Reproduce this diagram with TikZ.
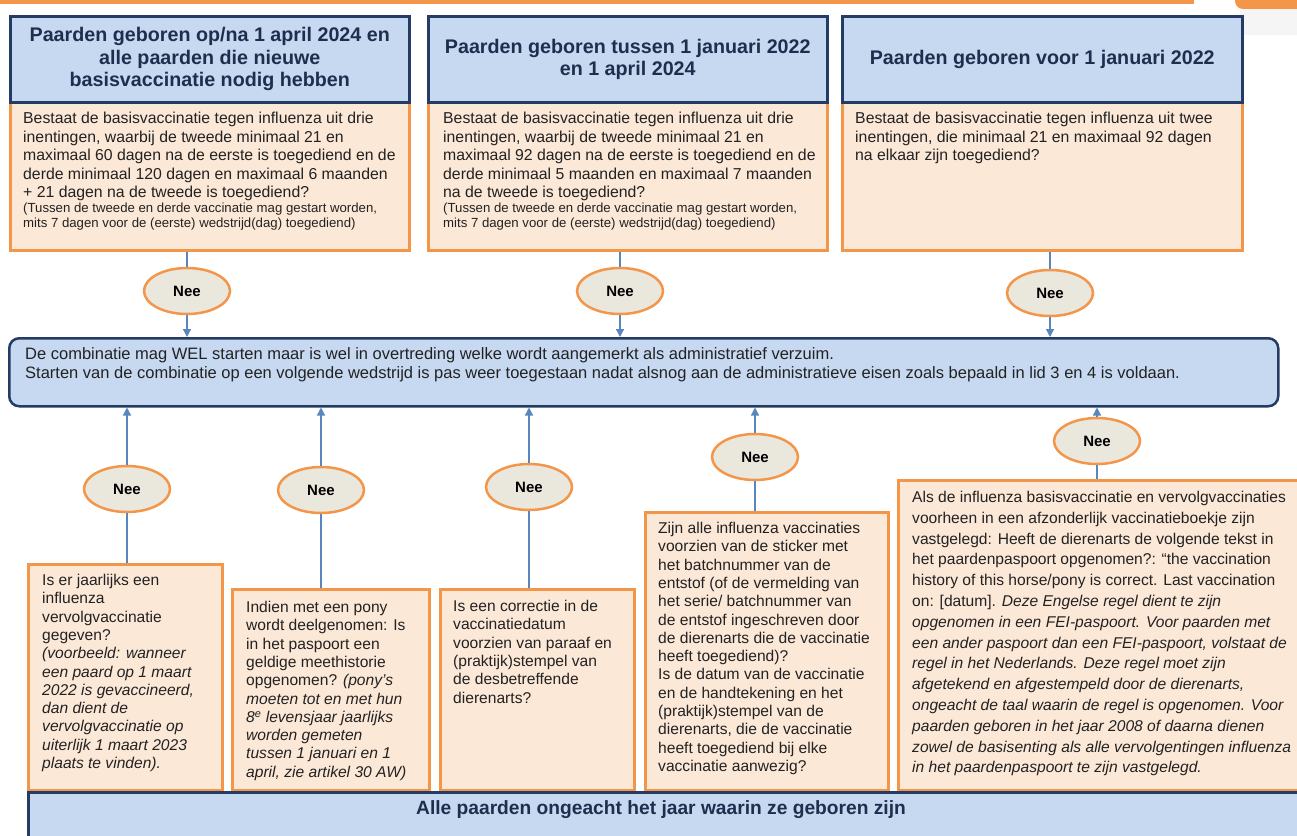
\documentclass[tikz,border=0pt]{standalone}
\usepackage{fontspec}
\setmainfont{Liberation Sans}
\usetikzlibrary{arrows.meta,shapes.geometric}
\definecolor{hdrfill}{HTML}{C6D9F1}
\definecolor{navy}{HTML}{243C63}
\definecolor{hdrtext}{HTML}{1F2E4E}
\definecolor{peach}{HTML}{FCE8D7}
\definecolor{orng}{HTML}{F4964A}
\definecolor{neefill}{HTML}{EAE7DD}
\definecolor{conn}{HTML}{5A86BE}
\definecolor{bodytext}{HTML}{222222}
\tikzset{
  hdrbox/.style={draw=navy, fill=hdrfill, line width=2.5pt, inner sep=0pt, anchor=north west},
  qbox/.style={draw=orng, fill=peach, line width=2.5pt, inner sep=0pt, anchor=north west},
  hdrtxt/.style={font=\fontsize{19.7}{22.5}\selectfont\bfseries, text=hdrtext, align=center, inner sep=0pt},
  body/.style={font=\fontsize{15.6}{18.3}\selectfont, text=bodytext, align=left, anchor=north west, inner sep=0pt},
  bodytop/.style={font=\fontsize{15.8}{18.5}\selectfont, text=bodytext, align=left, anchor=north west, inner sep=0pt},
  bodywide/.style={font=\fontsize{15.6}{20.8}\selectfont, text=bodytext, align=left, anchor=north west, inner sep=0pt},
  smalltxt/.style={font=\fontsize{13.2}{15}\selectfont, text=bodytext, align=left, anchor=north west, inner sep=0pt},
  bandtxt/.style={font=\fontsize{16.5}{18.8}\selectfont, text=bodytext, align=left, anchor=north west, inner sep=0pt},
  nee/.style={ellipse, draw=orng, fill=neefill, line width=2.5pt, minimum width=86pt, minimum height=46pt, inner sep=0pt, font=\fontsize{15}{18}\selectfont\bfseries},
  link/.style={draw=conn, line width=1.3pt},
  arrow/.style={link, -{Triangle[width=8pt,length=8pt]}},
}
\begin{document}
\begin{tikzpicture}[x=1pt,y=-1pt]
\useasboundingbox (0,0) rectangle (1297,835);
\clip (0,0) rectangle (1297,835);

% top decorations
\fill[orng] (0,-2) rectangle (1194,4);
\fill[black!4] (1240,10) rectangle (1300,35);
\fill[orng, rounded corners=8pt] (1235,-12) rectangle (1310,9);

% top question boxes
\node[qbox, minimum width=399pt, minimum height=148pt] (q1) at (9,101) {};
\node[qbox, minimum width=399pt, minimum height=148pt] (q2) at (427,101) {};
\node[qbox, minimum width=400pt, minimum height=148pt] (q3) at (841,101) {};
\node[hdrbox, minimum width=399pt, minimum height=86pt] (h1) at (9,15) {};
\node[hdrbox, minimum width=399pt, minimum height=86pt] (h2) at (427,15) {};
\node[hdrbox, minimum width=400pt, minimum height=86pt] (h3) at (841,15) {};
\node[hdrtxt] (h1t) at (h1.center) {Paarden geboren op/na 1 april 2024 en\\alle paarden die nieuwe\\basisvaccinatie nodig hebben};
\node[hdrtxt] (h2t) at (h2.center) {Paarden geboren tussen 1 januari 2022\\en 1 april 2024};
\node[hdrtxt] (h3t) at (h3.center) {Paarden geboren voor 1 januari 2022};

\node[bodytop] (t1) at (23,112) {Bestaat de basisvaccinatie tegen influenza uit drie\\inentingen, waarbij de tweede minimaal 21 en\\maximaal 60 dagen na de eerste is toegediend en de\\derde minimaal 120 dagen en maximaal 6 maanden\\+ 21 dagen na de tweede is toegediend?};
\node[smalltxt] (s1) at (23,202.5) {(Tussen de tweede en derde vaccinatie mag gestart worden,\\mits 7 dagen voor de (eerste) wedstrijd(dag) toegediend)};
\node[bodytop] (t2) at (443,112) {Bestaat de basisvaccinatie tegen influenza uit drie\\inentingen, waarbij de tweede minimaal 21 en\\maximaal 92 dagen na de eerste is toegediend en de\\derde minimaal 5 maanden en maximaal 7 maanden\\na de tweede is toegediend?};
\node[smalltxt] (s2) at (443,202.5) {(Tussen de tweede en derde vaccinatie mag gestart worden,\\mits 7 dagen voor de (eerste) wedstrijd(dag) toegediend)};
\node[bodytop] (t3) at (855,112) {Bestaat de basisvaccinatie tegen influenza uit twee\\inentingen, die minimaal 21 en maximaal 92 dagen\\na elkaar zijn toegediend?};

% top Nee
\node[nee] (n1) at (187,291) {Nee};
\node[nee] (n2) at (620,291) {Nee};
\node[nee] (n3) at (1050,293) {Nee};

% middle band
\node[draw=navy, fill=hdrfill, line width=2.5pt, rounded corners=10pt, anchor=north west, minimum width=1269pt, minimum height=68pt, inner sep=0pt] (band) at (8,337) {};
\node[bandtxt] (bandt) at (25,347.5) {De combinatie mag WEL starten maar is wel in overtreding welke wordt aangemerkt als administratief verzuim.\\Starten van de combinatie op een volgende wedstrijd is pas weer toegestaan nadat alsnog aan de administratieve eisen zoals bepaald in lid 3 en 4 is voldaan.};

\draw[link] (q1.south -| n1) -- (n1.north);
\draw[link] (q2.south -| n2) -- (n2.north);
\draw[link] (q3.south -| n3) -- (n3.north);
\draw[arrow] (n1.south) -- (n1.south |- band.north);
\draw[arrow] (n2.south) -- (n2.south |- band.north);
\draw[arrow] (n3.south) -- (n3.south |- band.north);

% bottom question boxes
\node[qbox, minimum width=194pt, minimum height=226pt] (ba) at (27,563) {};
\node[qbox, minimum width=197pt, minimum height=201pt] (bb) at (231,588) {};
\node[qbox, minimum width=194pt, minimum height=201pt] (bc) at (439,588) {};
\node[qbox, minimum width=243pt, minimum height=278pt] (bd) at (644,511) {};
\node[qbox, minimum width=420pt, minimum height=310pt] (be) at (897,479) {};

\node[body] (ta) at (42,574) {Is er jaarlijks een\\influenza\\vervolgvaccinatie\\gegeven?\\\textit{(voorbeeld: wanneer}\\\textit{een paard op 1 maart}\\\textit{2022 is gevaccineerd,}\\\textit{dan dient de}\\\textit{vervolgvaccinatie op}\\\textit{uiterlijk 1 maart 2023}\\\textit{plaats te vinden).}};
\node[body] (tb) at (246,601) {Indien met een pony\\wordt deelgenomen: Is\\in het paspoort een\\geldige meethistorie\\opgenomen? \textit{(pony’s}\\\textit{moeten tot en met hun}\\\textit{8\textsuperscript{e} levensjaar jaarlijks}\\\textit{worden gemeten}\\\textit{tussen 1 januari en 1}\\\textit{april, zie artikel 30 AW)}};
\node[body] (tc) at (453,600) {Is een correctie in de\\vaccinatiedatum\\voorzien van paraaf en\\(praktijk)stempel van\\de desbetreffende\\dierenarts?};
\node[body] (td) at (658,522) {Zijn alle influenza vaccinaties\\voorzien van de sticker met\\het batchnummer van de\\entstof (of de vermelding van\\het serie/ batchnummer van\\de entstof ingeschreven door\\de dierenarts die de vaccinatie\\heeft toegediend)?\\Is de datum van de vaccinatie\\en de handtekening en het\\(praktijk)stempel van de\\dierenarts, die de vaccinatie\\heeft toegediend bij elke\\vaccinatie aanwezig?};
\node[bodywide] (te) at (912,491) {Als de influenza basisvaccinatie en vervolgvaccinaties\\voorheen in een afzonderlijk vaccinatieboekje zijn\\vastgelegd: Heeft de dierenarts de volgende tekst in\\het paardenpaspoort opgenomen?: “the vaccination\\history of this horse/pony is correct. Last vaccination\\on: [datum]. \textit{Deze Engelse regel dient te zijn}\\\textit{opgenomen in een FEI-paspoort. Voor paarden met}\\\textit{een ander paspoort dan een FEI-paspoort, volstaat de}\\\textit{regel in het Nederlands. Deze regel moet zijn}\\\textit{afgetekend en afgestempeld door de dierenarts,}\\\textit{ongeacht de taal waarin de regel is opgenomen. Voor}\\\textit{paarden geboren in het jaar 2008 of daarna dienen}\\\textit{zowel de basisenting als alle vervolgentingen influenza}\\\textit{in het paardenpaspoort te zijn vastgelegd.}};

% bottom Nee
\node[nee] (na) at (127,489) {Nee};
\node[nee] (nb) at (321,490) {Nee};
\node[nee] (nc) at (529,487) {Nee};
\node[nee] (nd) at (755,457) {Nee};
\node[nee] (ne) at (1097,441) {Nee};

\draw[link] (ba.north -| na) -- (na.south);
\draw[link] (bb.north -| nb) -- (nb.south);
\draw[link] (bc.north -| nc) -- (nc.south);
\draw[link] (bd.north -| nd) -- (nd.south);
\draw[link] (be.north -| ne) -- (ne.south);
\draw[arrow] (na.north) -- (na.north |- band.south);
\draw[arrow] (nb.north) -- (nb.north |- band.south);
\draw[arrow] (nc.north) -- (nc.north |- band.south);
\draw[arrow] (nd.north) -- (nd.north |- band.south);
\draw[arrow] (ne.north) -- (ne.north |- band.south);

% bottom band
\node[draw=navy, fill=hdrfill, line width=2.5pt, anchor=north west, minimum width=1300pt, minimum height=70pt, inner sep=0pt] (bottom) at (27,791) {};
\node[font=\fontsize{19.2}{22}\selectfont\bfseries, text=hdrtext, inner sep=0pt] (bottomt) at (661,810) {Alle paarden ongeacht het jaar waarin ze geboren zijn};
\end{tikzpicture}
\end{document}
